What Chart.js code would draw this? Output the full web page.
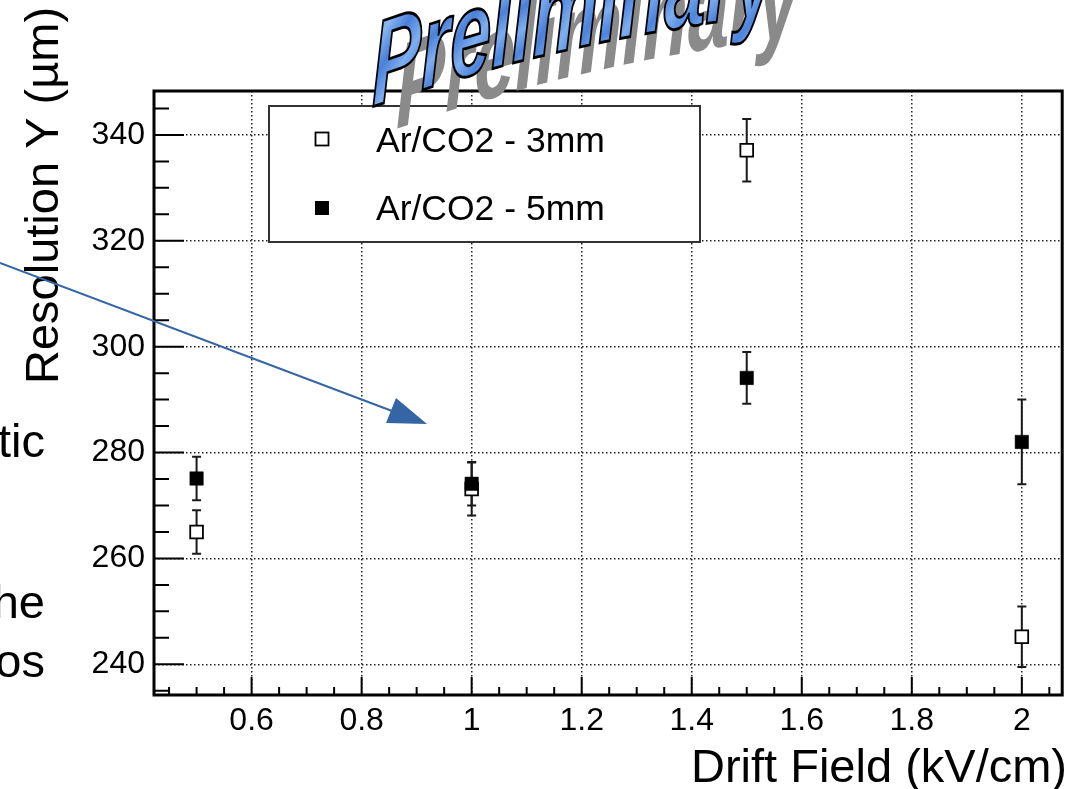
<!DOCTYPE html>
<html lang="en">

<head>
    <meta charset="UTF-8">
    <title>Resolution Y vs Drift Field</title>
    <script src="https://cdn.jsdelivr.net/npm/chart.js"></script>
    <style>
        html, body { margin: 0; padding: 0; background: #fff; overflow: hidden; }
        canvas { display: block; }
    </style>
</head>

<body>
    <canvas id="resChart" width="1073" height="789"></canvas>
    <script>
        // Drift field (kV/cm)
        const driftField = [0.5, 1.0, 1.5, 2.0];
        // Resolution Y (um) and errors, 3mm gap
        const res3mm = [265.0, 273.1, 337.1, 245.2];
        const err3mm = [4.1, 5.0, 5.9, 5.7];
        // Resolution Y (um) and errors, 5mm gap
        const res5mm = [275.1, 274.1, 294.1, 282.0];
        const err5mm = [4.1, 4.1, 4.9, 8.0];

        const seriesLabels = ['Ar/CO2 - 3mm', 'Ar/CO2 - 5mm'];
        const xTicks = [0.6, 0.8, 1, 1.2, 1.4, 1.6, 1.8, 2];
        const yTicks = [240, 260, 280, 300, 320, 340];
        const xRange = [0.4226, 2.0734];
        const yRange = [234.2, 348.3];
        const xMinorStep = 0.05;
        const yMinorStep = 5;

        const xTitle = 'Drift Field (kV/cm)';
        const yTitle = 'Resolution Y (µm)';
        const sideWords = ['tic', 'he', 'os'];

        const FONT = '"Liberation Sans", Arial, Helvetica, sans-serif';
        Chart.defaults.font.family = FONT;
        Chart.defaults.color = '#000';

        // vertical error bars with caps, under the markers
        const errorBars = {
            id: 'errorBars',
            beforeDatasetsDraw(chart) {
                const ctx = chart.ctx;
                const xs = chart.scales.x, ys = chart.scales.y;
                ctx.save();
                ctx.strokeStyle = '#1a1a1a';
                ctx.lineWidth = 2;
                chart.data.datasets.forEach(ds => {
                    ds.data.forEach((p, j) => {
                        const e = ds.errors[j];
                        const px = xs.getPixelForValue(p.x);
                        const top = ys.getPixelForValue(p.y + e);
                        const bot = ys.getPixelForValue(p.y - e);
                        ctx.beginPath();
                        ctx.moveTo(px, top); ctx.lineTo(px, bot);
                        ctx.moveTo(px - 4.5, top); ctx.lineTo(px + 4.5, top);
                        ctx.moveTo(px - 4.5, bot); ctx.lineTo(px + 4.5, bot);
                        ctx.stroke();
                    });
                });
                ctx.restore();
            }
        };

        // ROOT style frame with inward ticks
        const frame = {
            id: 'frame',
            afterDatasetsDraw(chart) {
                const ctx = chart.ctx;
                const a = chart.chartArea;
                const xs = chart.scales.x, ys = chart.scales.y;
                ctx.save();
                ctx.strokeStyle = '#000';
                ctx.lineWidth = 2;
                ctx.beginPath();
                for (let v = Math.ceil(xRange[0] / xMinorStep) * xMinorStep; v <= xRange[1]; v += xMinorStep) {
                    const px = xs.getPixelForValue(v);
                    const major = xTicks.some(t => Math.abs(t - v) < 1e-6);
                    ctx.moveTo(px, a.bottom);
                    ctx.lineTo(px, a.bottom - (major ? 18 : 8));
                }
                for (let v = Math.ceil(yRange[0] / yMinorStep) * yMinorStep; v <= yRange[1]; v += yMinorStep) {
                    const py = ys.getPixelForValue(v);
                    const major = yTicks.includes(v);
                    ctx.moveTo(a.left, py);
                    ctx.lineTo(a.left + (major ? 30 : 15), py);
                }
                ctx.stroke();
                ctx.lineWidth = 3;
                ctx.strokeRect(a.left, a.top, a.right - a.left, a.bottom - a.top);
                ctx.restore();
            }
        };

        function drawMarker(ctx, x, y, filled) {
            if (filled) {
                ctx.fillStyle = '#000';
                ctx.fillRect(x - 7, y - 7, 14, 14);
            } else {
                ctx.fillStyle = '#fff';
                ctx.strokeStyle = '#000';
                ctx.lineWidth = 1.8;
                ctx.fillRect(x - 6.5, y - 6.5, 13, 13);
                ctx.strokeRect(x - 6.5, y - 6.5, 13, 13);
            }
        }

        // "Preliminary" word art, letters slanted along a rising curve
        function drawSlantWord(ctx, word, x0, y0, shadow) {
            const squeeze = 0.74, stretch = 1.2, k0 = -0.34, k1 = -0.12;
            let x = x0, y = y0;
            for (let i = 0; i < word.length; i++) {
                const ch = word[i];
                const k = k0 + (k1 - k0) * i / (word.length - 1);
                const w = ctx.measureText(ch).width;
                ctx.save();
                ctx.transform(squeeze, k * squeeze, 0, stretch, x, y);
                if (shadow) {
                    ctx.fillStyle = '#8a8a8a';
                } else {
                    const g = ctx.createLinearGradient(0, -75, w, 5);
                    g.addColorStop(0, '#4f86dc');
                    g.addColorStop(0.2, '#8ab8f3');
                    g.addColorStop(0.4, '#4a80d8');
                    g.addColorStop(0.6, '#7eaeef');
                    g.addColorStop(0.8, '#4d84db');
                    g.addColorStop(1, '#86b4f2');
                    ctx.fillStyle = g;
                }
                ctx.fillText(ch, 0, 0);
                if (!shadow) {
                    ctx.lineWidth = 2.4;
                    ctx.strokeStyle = '#000';
                    ctx.strokeText(ch, 0, 0);
                }
                ctx.restore();
                x += w * squeeze;
                y += w * squeeze * k;
            }
        }

        const overlay = {
            id: 'overlay',
            afterDraw(chart) {
                const ctx = chart.ctx;
                ctx.save();

                // legend box
                ctx.fillStyle = '#fff';
                ctx.fillRect(269, 106, 431, 136);
                ctx.strokeStyle = '#333';
                ctx.lineWidth = 2;
                ctx.strokeRect(269, 106, 431, 136);
                drawMarker(ctx, 322, 139, false);
                drawMarker(ctx, 322, 208, true);
                ctx.fillStyle = '#000';
                ctx.font = '35.5px ' + FONT;
                ctx.textBaseline = 'middle';
                ctx.textAlign = 'left';
                ctx.fillText(seriesLabels[0], 376, 142);
                ctx.fillText(seriesLabels[1], 376, 210);

                // axis titles
                ctx.font = '47px ' + FONT;
                ctx.textBaseline = 'alphabetic';
                ctx.textAlign = 'right';
                ctx.fillText(xTitle, 1067, 782);
                ctx.save();
                ctx.translate(58, 384);
                ctx.rotate(-Math.PI / 2);
                ctx.textAlign = 'left';
                ctx.fillText(yTitle, 0, 0);
                ctx.restore();

                // slide text at the left edge
                ctx.textAlign = 'right';
                ctx.fillText(sideWords[0], 45, 457);
                ctx.fillText(sideWords[1], 45, 618);
                ctx.fillText(sideWords[2], 45, 677);

                // arrow
                ctx.strokeStyle = '#3465a4';
                ctx.fillStyle = '#3465a4';
                ctx.lineWidth = 2;
                ctx.beginPath();
                ctx.moveTo(0, 263);
                ctx.lineTo(400, 414);
                ctx.stroke();
                ctx.beginPath();
                ctx.moveTo(427, 424);
                ctx.lineTo(396, 398);
                ctx.lineTo(386, 423);
                ctx.closePath();
                ctx.fill();

                // watermark
                ctx.font = 'italic bold 100px ' + FONT;
                ctx.textAlign = 'left';
                ctx.textBaseline = 'alphabetic';
                drawSlantWord(ctx, 'Preliminary', 396, 129, true);
                drawSlantWord(ctx, 'Preliminary', 372, 107, false);
                ctx.restore();
            }
        };

        const ctx = document.getElementById('resChart').getContext('2d');
        new Chart(ctx, {
            type: 'scatter',
            data: {
                datasets: [{
                    label: seriesLabels[0],
                    data: driftField.map((x, i) => ({ x: x, y: res3mm[i] })),
                    errors: err3mm,
                    pointStyle: 'rect',
                    pointRadius: 9,
                    backgroundColor: '#fff',
                    borderColor: '#000',
                    borderWidth: 1.8,
                    order: 1
                }, {
                    label: seriesLabels[1],
                    data: driftField.map((x, i) => ({ x: x, y: res5mm[i] })),
                    errors: err5mm,
                    pointStyle: 'rect',
                    pointRadius: 9.5,
                    backgroundColor: '#000',
                    borderColor: '#000',
                    borderWidth: 0.5,
                    order: 0
                }]
            },
            options: {
                responsive: false,
                animation: false,
                layout: { padding: { left: 0, right: 10, top: 91, bottom: 0 } },
                plugins: {
                    legend: { display: false },
                    tooltip: { enabled: false }
                },
                scales: {
                    x: {
                        type: 'linear',
                        min: xRange[0],
                        max: xRange[1],
                        afterBuildTicks: s => { s.ticks = xTicks.map(v => ({ value: v })); },
                        afterFit: s => { s.height = 94; },
                        ticks: {
                            callback: v => String(v),
                            font: { size: 32 },
                            padding: 7,
                            maxRotation: 0,
                            autoSkip: false
                        },
                        grid: { color: '#222', lineWidth: 1.5, drawTicks: false },
                        border: { display: false, dash: [1.5, 2.5] }
                    },
                    y: {
                        type: 'linear',
                        min: yRange[0],
                        max: yRange[1],
                        afterBuildTicks: s => { s.ticks = yTicks.map(v => ({ value: v })); },
                        afterFit: s => { s.width = 154; },
                        ticks: {
                            callback: v => String(v),
                            font: { size: 32 },
                            padding: 9,
                            autoSkip: false
                        },
                        grid: { color: '#222', lineWidth: 1.5, drawTicks: false },
                        border: { display: false, dash: [1.5, 2.5] }
                    }
                }
            },
            plugins: [errorBars, frame, overlay]
        });
    </script>
</body>

</html>
